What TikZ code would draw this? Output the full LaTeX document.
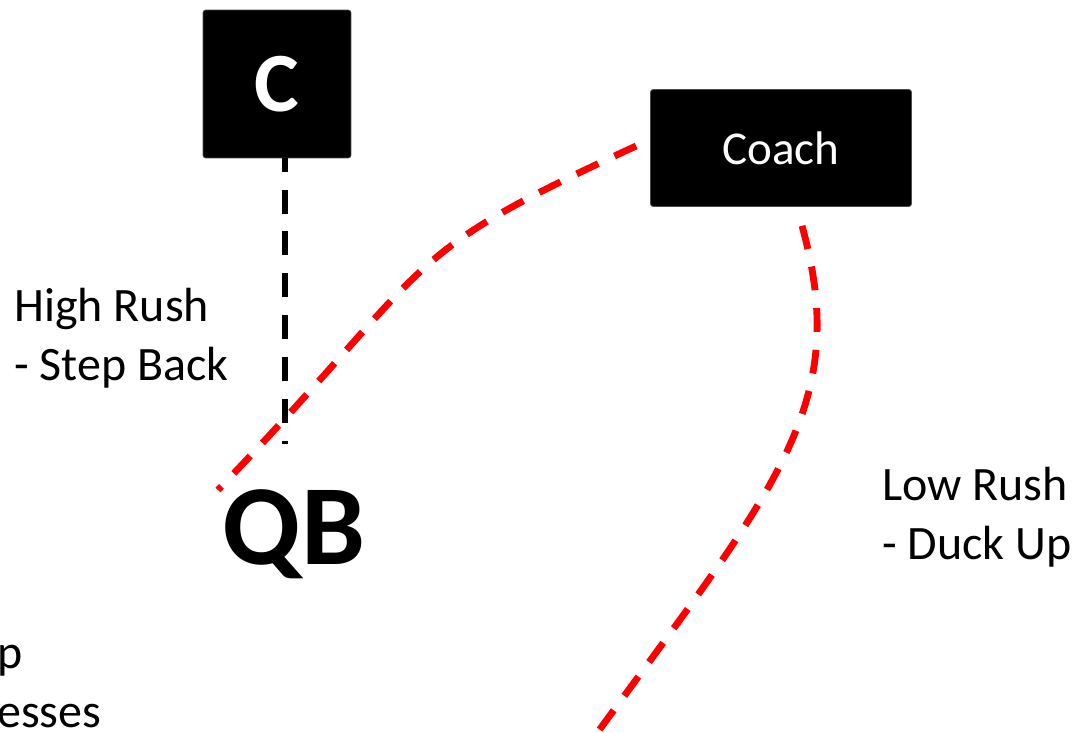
\documentclass[tikz,border=0pt]{standalone}
\usepackage{fontspec}
\setmainfont{Carlito}
\usetikzlibrary{positioning,calc}

\begin{document}
\begin{tikzpicture}[x=0.02cm, y=-0.02cm]
        \tikzstyle{block} = [rectangle, draw=black!70, line width=0.4pt, fill=black, text=white, rounded corners=1.5pt, inner sep=0pt]
        \tikzstyle{note} = [align=left, inner sep=0pt, font=\fontsize{27.3}{33.4}\selectfont]
        \tikzstyle{guide} = [draw, line width=3.6pt, dash pattern=on 13.6pt off 10.2pt]
        \tikzstyle{rush} = [guide, red, line width=3.9pt]

        \useasboundingbox (0,0) rectangle (1076,733);
        \clip (0,0) rectangle (1076,733);

        \node [block, minimum width=2.96cm, minimum height=2.96cm, font=\bfseries\fontsize{48}{54}\selectfont] (ctr) at (277,84) {C};
        \node [block, minimum width=5.22cm, minimum height=2.34cm, font=\fontsize{26.8}{32}\selectfont] (coach) at (781,148) {Coach};
        \node [font=\bfseries\fontsize{65}{74}\selectfont, inner sep=0pt, anchor=base] (qb) at (294,564) {QB};

        \node [note, anchor=north west] (high) at (14,288) {High Rush\\- Step Back};
        \node [note, anchor=north west] (low) at (882,467) {Low Rush\\- Duck Up};
        \node [note, anchor=north west] (edge) at (-3,645) {p\\esses};

        \coordinate (snap) at (285,444);
        \coordinate (qbleft) at (218,490);
        \coordinate (exit) at (592,740);

        \path [guide, dash phase=6pt] (ctr.south -| snap) -- (snap);
        \path [rush] ($(coach.west)+(-14,-2)$) .. controls (391,259) and (444,254) .. (qbleft);
        \path [rush] ($(coach.south)+(21,19)$) .. controls (852,406) and (777,486) .. (exit);
    \end{tikzpicture}
\end{document}
